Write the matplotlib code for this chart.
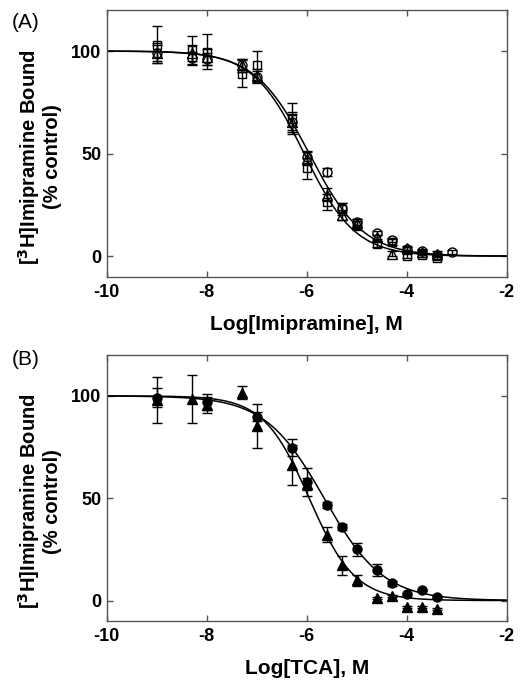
import numpy as np
import matplotlib
matplotlib.use("Agg")
import matplotlib.pyplot as plt

plt.rcParams['font.family'] = ['Liberation Sans', 'DejaVu Sans']

# ---------------- Panel A data (Imipramine) ----------------
a_x = [-9.0, -8.3, -8.0, -7.3, -7.0, -6.3, -6.0, -5.6, -5.3, -5.0, -4.6, -4.3, -4.0, -3.7, -3.4]
a_circ_x = [-9.0, -8.3, -8.0, -7.3, -7.0, -6.3, -6.0, -5.6, -5.3, -5.0, -4.6, -4.3, -4.0, -3.7, -3.4, -3.1]
a_circ_y = [98.9, 96.4, 96.0, 93.0, 87.5, 65.5, 48.5, 41.0, 23.7, 16.7, 11.5, 7.8, 3.7, 2.6, 0.5, 2.0]
a_circ_err = [4.0, 3.0, 3.0, 3.0, 3.0, 4.0, 3.0, 2.0, 2.0, 1.5, 1.0, 1.0, 1.0, 1.0, 1.0, 1.0]
a_tri_y = [99.0, 99.0, 97.0, 93.0, 88.0, 65.5, 47.6, 30.0, 20.0, 16.0, 9.4, 1.3, 4.0, 2.0, 1.3]
a_tri_err = [5.0, 4.0, 4.0, 3.0, 3.0, 5.0, 3.0, 3.0, 2.5, 2.0, 1.0, 1.0, 1.0, 1.0, 1.0]
a_sq_y = [103.0, 100.5, 99.7, 89.0, 93.0, 67.0, 42.8, 26.5, 23.0, 15.0, 6.0, 7.0, 0.0, 0.5, -1.0]
a_sq_err = [9.0, 7.0, 8.5, 6.5, 7.0, 7.5, 5.0, 4.0, 3.0, 2.0, 1.5, 1.5, 1.0, 1.0, 1.0]
# fitted curve parameters (logIC50, Hill slope)
a_fit_log_ic50 = [-6.05, -5.95]
a_fit_hill = [0.85, 0.80]

# ---------------- Panel B data (TCA) ----------------
b_circ_x = [-9.0, -8.0, -7.0, -6.3, -6.0, -5.6, -5.3, -5.0, -4.6, -4.3, -4.0, -3.7, -3.4]
b_circ_y = [99.2, 96.9, 89.9, 74.7, 58.0, 46.6, 36.0, 25.0, 15.0, 8.5, 3.3, 5.2, 1.6]
b_circ_err = [4.5, 4.0, 2.0, 4.0, 7.0, 1.6, 1.6, 3.0, 3.0, 1.2, 0.5, 0.5, 0.5]
b_tri_x = [-9.0, -8.3, -8.0, -7.3, -7.0, -6.3, -6.0, -5.6, -5.3, -5.0, -4.6, -4.3, -4.0, -3.7, -3.4]
b_tri_y = [98.0, 98.5, 95.6, 101.6, 85.3, 66.2, 57.0, 32.2, 17.2, 9.8, 1.3, 2.0, -3.3, -3.3, -4.0]
b_tri_err = [11.0, 11.5, 4.0, 3.0, 10.7, 9.8, 3.0, 3.7, 4.5, 2.5, 0.5, 0.5, 0.5, 0.5, 0.5]
b_fit_log_ic50 = [-5.65, -5.95]
b_fit_hill = [0.73, 0.95]

xticks = [-10, -8, -6, -4, -2]
yticks = [0, 50, 100]


def sigmoid(x, logic50, hill):
    return 100.0 / (1.0 + 10 ** (hill * (x - logic50)))


fig = plt.figure(figsize=(5.21, 6.89), dpi=100)
axA = fig.add_axes([0.2048, 0.5984, 0.7677, 0.3871])
axB = fig.add_axes([0.2048, 0.0987, 0.7677, 0.3861])

spine_col = '#555555'
ebkw = dict(ecolor='black', elinewidth=1.0, capsize=3.5, capthick=1.0, linestyle='none')
xx = np.linspace(-10, -2, 400)

# Panel A
for ic, h in zip(a_fit_log_ic50, a_fit_hill):
    axA.plot(xx, sigmoid(xx, ic, h), color='black', lw=1.1, zorder=2)
axA.errorbar(a_x, a_sq_y, yerr=a_sq_err, marker='s', ms=6, mfc='none', mec='black', mew=1.0, zorder=3, **ebkw)
axA.errorbar(a_x, a_tri_y, yerr=a_tri_err, marker='^', ms=6.5, mfc='none', mec='black', mew=1.0, zorder=3, **ebkw)
axA.errorbar(a_circ_x, a_circ_y, yerr=a_circ_err, marker='o', ms=6.5, mfc='none', mec='black', mew=1.0, zorder=3, **ebkw)

# Panel B
for ic, h in zip(b_fit_log_ic50, b_fit_hill):
    axB.plot(xx, sigmoid(xx, ic, h), color='black', lw=1.1, zorder=2)
axB.errorbar(b_tri_x, b_tri_y, yerr=b_tri_err, marker='^', ms=6.5, mfc='black', mec='black', zorder=3, **ebkw)
axB.errorbar(b_circ_x, b_circ_y, yerr=b_circ_err, marker='o', ms=6.5, mfc='black', mec='black', zorder=3, **ebkw)

for ax, xl in ((axA, 'Log[Imipramine], M'), (axB, 'Log[TCA], M')):
    ax.set_xlim(-10, -2)
    ax.set_ylim(-10, 120)
    ax.set_xticks(xticks)
    ax.set_yticks(yticks)
    ax.set_xticklabels([str(t) for t in xticks])
    ax.tick_params(direction='in', length=4, width=1, color=spine_col,
                   top=True, right=True, labelsize=13)
    ax.tick_params(axis='x', pad=5)
    ax.tick_params(axis='y', pad=4)
    for lab in ax.get_xticklabels() + ax.get_yticklabels():
        lab.set_fontweight('bold')
    for sp in ax.spines.values():
        sp.set_color(spine_col)
        sp.set_linewidth(1.0)
    ax.set_xlabel(xl, fontsize=15, fontweight='bold', labelpad=10)
    ax.set_ylabel('[$\\mathbf{^3}$H]Imipramine Bound\n(% control)', fontsize=14.5,
                  fontweight='bold', linespacing=1.05)
    ax.yaxis.set_label_coords(-0.112, 0.45)

fig.text(0.023, 0.968, '(A)', fontsize=15, ha='left', va='center')
fig.text(0.023, 0.478, '(B)', fontsize=15, ha='left', va='center')

fig.savefig('out.png', dpi=100)
